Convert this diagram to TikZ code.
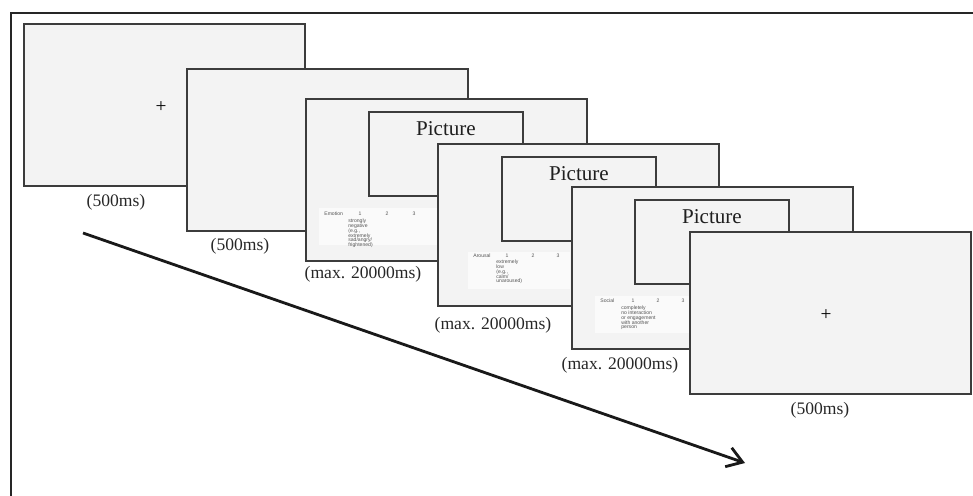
\documentclass[tikz,border=0pt]{standalone}
\usepackage{fontspec}
\setmainfont{Liberation Serif}
\newfontfamily\scalesans{Liberation Sans}
\usetikzlibrary{arrows.meta, positioning}
\definecolor{screenfill}{HTML}{F3F3F3}
\definecolor{screenline}{HTML}{3C3C3C}
\definecolor{panelfill}{HTML}{FAFAFA}
\definecolor{scaletext}{HTML}{555555}
\newcommand\tinyscale{\scalesans\fontsize{2.9}{2.75}\selectfont\lineskiplimit-5pt\relax}

\begin{document}
\begin{tikzpicture}[x=0.02cm, y=-0.02cm,
			screen/.style={draw=screenline, fill=screenfill, line width=1.1pt, minimum width=5.62cm, minimum height=3.24cm, anchor=north west, inner sep=0pt},
			picbox/.style={draw=screenline, fill=screenfill, line width=1.1pt, minimum width=3.08cm, minimum height=1.68cm, anchor=north west, inner sep=0pt},
			pictxt/.style={font=\fontsize{12}{14}\selectfont, text=black!88},
			timing/.style={font=\fontsize{10}{12}\selectfont, text=black!85},
			fix/.style={font=\fontsize{11}{12}\selectfont, inner sep=0pt},
			panel/.style={fill=panelfill, anchor=north west, inner sep=0pt, minimum height=0.74cm},
			sc/.style={font=\tinyscale, text=scaletext, inner sep=0pt},
			scl/.style={sc, align=left, anchor=north west},
			timearr/.style={-{Straight Barb[length=3mm,width=4mm]}, line width=1.6pt, black!90}]
			\useasboundingbox (0,0) rectangle (973,496);
			\draw[line width=1.1pt, black!85] (11,496) -- (11,13) -- (973,13);
			% fixation
			\node[screen] (s1) at (23,23) {};
			\node[fix] (x1) at (161,107) {+};
			\node[timing] (c1) at (116,202) {(500ms)};
			% blank
			\node[screen] (s2) at (186,68) {};
			\node[timing] (c2) at (240,246) {(500ms)};
			% emotion rating
			\node[screen] (s3) at (305,98) {};
			\node[picbox] (p3) at (368,111) {};
			\node[pictxt] (t3) at ([yshift=-0.36cm]p3.north) {Picture};
			\node[panel, minimum width=2.5cm] (r3) at (319,208) {};
			\node[sc, anchor=west] (l3) at (324,214) {Emotion};
			\node[sc] (a3) at (360,214) {1};
			\node[sc] (b3) at (387,214) {2};
			\node[sc] (d3) at (414,214) {3};
			\node[scl] (e3) at (348,218.5) {strongly\\negative\\(e.g.,\\extremely\\sad/angry/\\frightened)};
			\node[timing] (c3) at (363,274) {(max. 20000ms)};
			% arousal rating
			\node[screen] (s4) at (437,143) {};
			\node[picbox] (p4) at (501,156) {};
			\node[pictxt] (t4) at ([yshift=-0.36cm]p4.north) {Picture};
			\node[panel, minimum width=2.04cm] (r4) at (468,252) {};
			\node[sc, anchor=west] (l4) at (473,256) {Arousal};
			\node[sc] (a4) at (507,256) {1};
			\node[sc] (b4) at (533,256) {2};
			\node[sc] (d4) at (558,256) {3};
			\node[scl] (e4) at (496,259.5) {extremely\\low\\(e.g.,\\calm/\\unaroused)};
			\node[timing] (c4) at (493,325) {(max. 20000ms)};
			% social rating
			\node[screen] (s5) at (571,186) {};
			\node[picbox] (p5) at (634,199) {};
			\node[pictxt] (t5) at ([yshift=-0.36cm]p5.north) {Picture};
			\node[panel, minimum width=2.04cm] (r5) at (595,296) {};
			\node[sc, anchor=west] (l5) at (600,301) {Social};
			\node[sc] (a5) at (633,301) {1};
			\node[sc] (b5) at (658,301) {2};
			\node[sc] (d5) at (683,301) {3};
			\node[scl] (e5) at (621,305.5) {completely\\no interaction\\or engagement\\with another\\person};
			\node[timing] (c5) at (620,365) {(max. 20000ms)};
			% fixation
			\node[screen] (s6) at (689,231) {};
			\node[fix] (x6) at (826,315) {+};
			\node[timing] (c6) at (820,410) {(500ms)};
			% time
			\coordinate (tstart) at (83,233);
			\coordinate (tend) at (745,463);
			\draw[timearr] (tstart) -- (tend);
		\end{tikzpicture}
\end{document}
